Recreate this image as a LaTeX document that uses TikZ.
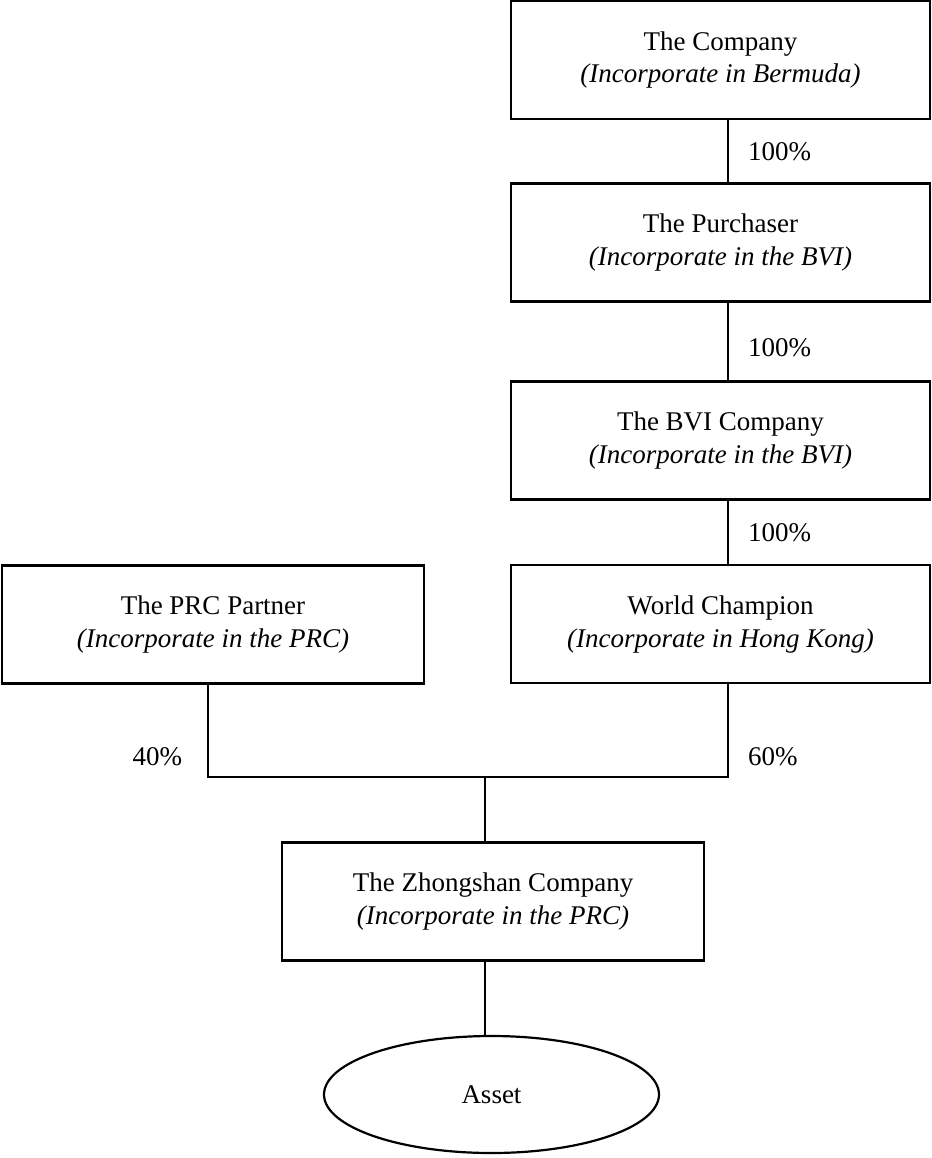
\documentclass[tikz,border=0pt]{standalone}
\usepackage{fontspec}
\setmainfont{Liberation Serif}
\usetikzlibrary{shapes.geometric}
\begin{document}
\begin{tikzpicture}
  [x=0.5pt,y=-0.5pt,line width=1pt,
   every node/.style={font=\fontsize{13.5}{16.5}\selectfont,inner sep=0pt},
   firm/.style={draw,rectangle,align=center,minimum width=209.5pt,minimum height=59pt,line width=1.1pt},
   wide/.style={firm,minimum width=211pt}]
\useasboundingbox (0,0) rectangle (932,1158);
  % empresas del grupo
  \node[firm] (co)  at (720.5,60)    {The Company\\\textit{(Incorporate in Bermuda)}};
  \node[firm] (pu)  at (720.5,242.5) {The Purchaser\\\textit{(Incorporate in the BVI)}};
  \node[firm] (bvi) at (720.5,440.5) {The BVI Company\\\textit{(Incorporate in the BVI)}};
  \node[firm] (wc)  at (720.5,624)   {World Champion\\\textit{(Incorporate in Hong Kong)}};
  \node[wide] (prc) at (213,624.5)   {The PRC Partner\\\textit{(Incorporate in the PRC)}};
  \node[wide] (zs)  at (493,901.5)   {The Zhongshan Company\\\textit{(Incorporate in the PRC)}};
  \node[draw,ellipse,minimum width=167.5pt,minimum height=58.5pt,line width=1.1pt] (asset) at (491.5,1094.5) {Asset};

  % puntos de union
  \coordinate (rj) at (728,777);
  \coordinate (lj) at (208,777);
  \coordinate (mj) at (485,777);

  % participaciones
  \foreach \from/\to in {co/pu, pu/bvi, bvi/wc}
    \draw (\from.south -| rj) -- (\to.north -| rj);
  \draw (wc.south -| rj) -- (rj) -- (lj) -- (prc.south -| lj);
  \draw (mj) -- (zs.north -| mj);
  \draw (zs.south -| mj) -- (asset.north -| mj);

  \node[anchor=west] (p1) at (747,152) {100\%};
  \node[anchor=west] (p2) at (747,348) {100\%};
  \node[anchor=west] (p3) at (747,533) {100\%};
  \node[anchor=west] (p4) at (747,757) {60\%};
  \node[anchor=east] (p5) at (183,757) {40\%};
\end{tikzpicture}
\end{document}
